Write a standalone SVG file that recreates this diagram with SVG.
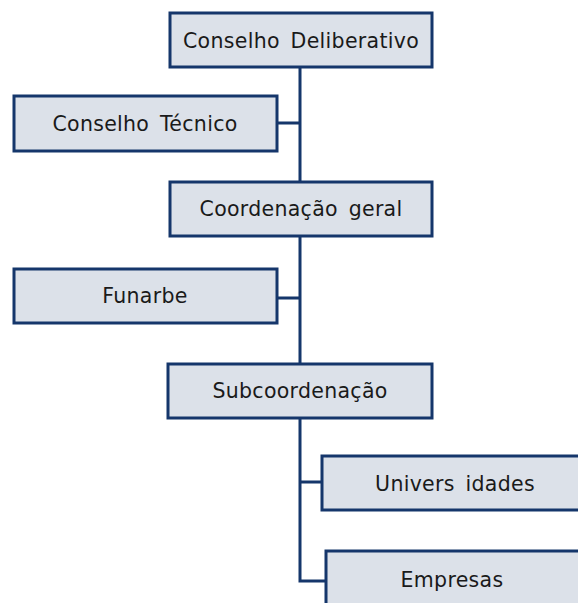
<svg xmlns="http://www.w3.org/2000/svg" width="578" height="603" viewBox="0 0 578 603">
<style>
.box{fill:#dce1e9;stroke:#15366b;stroke-width:3}
.lbl{font-family:"DejaVu Sans","Liberation Sans",Arial,sans-serif;font-size:20.5px;fill:#1a1a1a;text-anchor:middle;word-spacing:4px;letter-spacing:0.3px}
.con{fill:none;stroke:#15366b;stroke-width:3}
</style>
<rect width="578" height="603" fill="#fff"/>
<g id="connectors">
<path class="con" d="M300,67 V182 M277,123 H300 M300,236 V364 M277,298 H300 M300,418 V581 H326 M300,482 H322"/>
</g>
<g id="conselho-deliberativo">
<rect class="box" x="170" y="13" width="262" height="54"/>
<text class="lbl" x="301" y="48">Conselho Deliberativo</text>
</g>
<g id="conselho-tecnico">
<rect class="box" x="14" y="96" width="263" height="55"/>
<text class="lbl" x="145" y="131">Conselho Técnico</text>
</g>
<g id="coordenacao-geral">
<rect class="box" x="170" y="182" width="262" height="54"/>
<text class="lbl" x="301" y="216">Coordenação geral</text>
</g>
<g id="funarbe">
<rect class="box" x="14" y="269" width="263" height="54"/>
<text class="lbl" x="145" y="303">Funarbe</text>
</g>
<g id="subcoordenacao">
<rect class="box" x="168" y="364" width="264" height="54"/>
<text class="lbl" x="300" y="398">Subcoordenação</text>
</g>
<g id="universidades">
<rect class="box" x="322" y="456" width="270" height="54"/>
<text class="lbl" x="455" y="491">Univers idades</text>
</g>
<g id="empresas">
<rect class="box" x="326" y="551" width="270" height="60"/>
<text class="lbl" x="452" y="587">Empresas</text>
</g>
</svg>
